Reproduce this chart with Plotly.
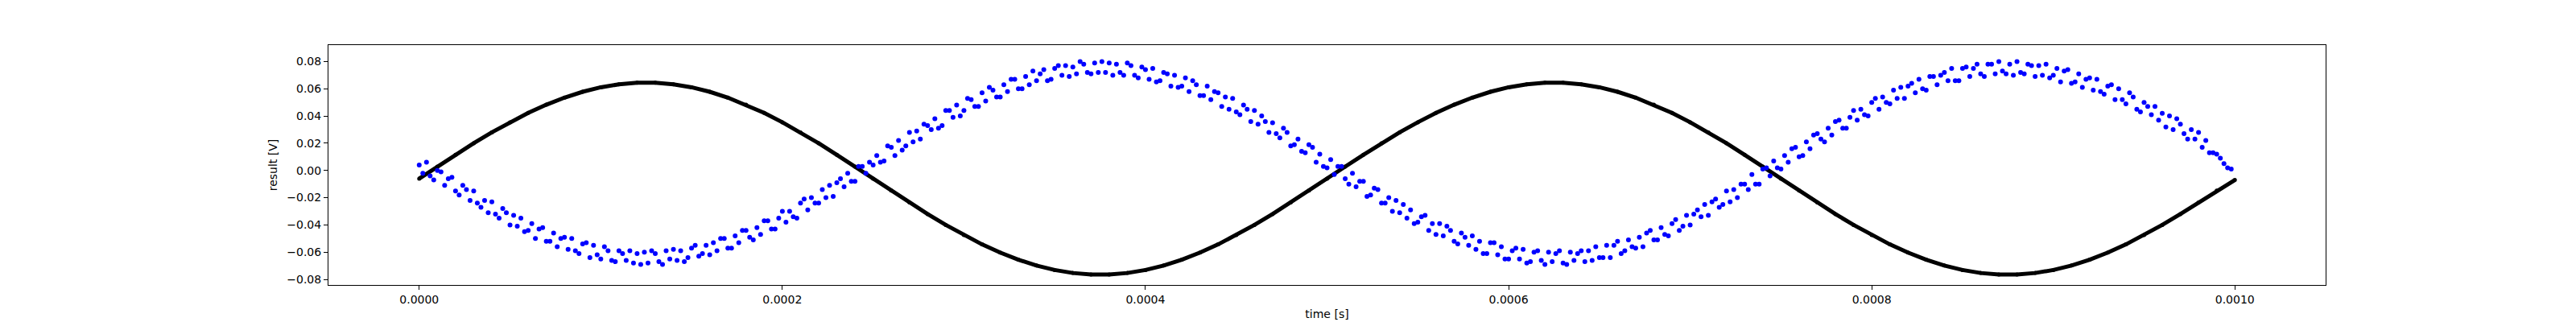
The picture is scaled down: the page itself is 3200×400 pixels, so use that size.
"""
plot.py
-------
Measured result signal (blue dots) against the reference sine (black)
over one millisecond. Styled after the default matplotlib look.
"""

import numpy as np
import plotly.graph_objects as go

# reference sine, sampled every 10 us from 0 to 1 ms
black_result = [
    -0.0060, 0.0028, 0.0115, 0.0200, 0.0280, 0.0354, 0.0423, 0.0483, 0.0535, 0.0578,
    0.0611, 0.0633, 0.0644, 0.0644, 0.0633, 0.0611, 0.0578, 0.0535, 0.0483, 0.0423,
    0.0354, 0.0280, 0.0200, 0.0115, 0.0028, -0.0060, -0.0148, -0.0235, -0.0320, -0.0400,
    -0.0474, -0.0543, -0.0603, -0.0655, -0.0698, -0.0731, -0.0753, -0.0764, -0.0764, -0.0753,
    -0.0731, -0.0698, -0.0655, -0.0603, -0.0543, -0.0474, -0.0400, -0.0320, -0.0235, -0.0148,
    -0.0060, 0.0028, 0.0115, 0.0200, 0.0280, 0.0354, 0.0423, 0.0483, 0.0535, 0.0578,
    0.0611, 0.0633, 0.0644, 0.0644, 0.0633, 0.0611, 0.0578, 0.0535, 0.0483, 0.0423,
    0.0354, 0.0280, 0.0200, 0.0115, 0.0028, -0.0060, -0.0148, -0.0235, -0.0320, -0.0400,
    -0.0474, -0.0543, -0.0603, -0.0655, -0.0698, -0.0731, -0.0753, -0.0764, -0.0764, -0.0753,
    -0.0731, -0.0698, -0.0655, -0.0603, -0.0543, -0.0474, -0.0400, -0.0320, -0.0235, -0.0148,
    -0.0070,
]

# measured signal, sampled every 2 us (noisy, two loose bands)
blue_result = [
    # 0 - 124 us
    0.004, -0.002, 0.006, -0.004, -0.007, 0.000, -0.001, -0.011, -0.006, -0.005,
    -0.015, -0.018, -0.011, -0.014, -0.022, -0.015, -0.024, -0.027, -0.022, -0.031,
    -0.023, -0.032, -0.035, -0.028, -0.031, -0.040, -0.033, -0.041, -0.035, -0.045,
    -0.044, -0.039, -0.050, -0.043, -0.042, -0.052, -0.052, -0.046, -0.056, -0.050,
    -0.049, -0.058, -0.050, -0.059, -0.061, -0.054, -0.053, -0.064, -0.055, -0.062,
    -0.065, -0.056, -0.059, -0.066, -0.067, -0.059, -0.061, -0.066, -0.059, -0.068,
    -0.061, -0.069, -0.060,
    # 126 - 248 us
    -0.068, -0.059, -0.061, -0.067, -0.069, -0.059, -0.065,
    -0.058, -0.066, -0.059, -0.067, -0.064, -0.057, -0.055, -0.063, -0.061, -0.055,
    -0.062, -0.053, -0.059, -0.050, -0.050, -0.057, -0.057, -0.048, -0.053, -0.044,
    -0.044, -0.049, -0.051, -0.042, -0.047, -0.037, -0.037, -0.043, -0.043, -0.035,
    -0.030, -0.038, -0.030, -0.034, -0.035, -0.024, -0.021, -0.029, -0.020, -0.024,
    -0.024, -0.014, -0.020, -0.011, -0.019, -0.009, -0.006, -0.012, -0.002, -0.008,
    -0.008, 0.003, 0.003, -0.002, 0.006,
    # 250 - 374 us
    0.004, 0.011, 0.006, 0.007, 0.018, 0.017, 0.011, 0.022, 0.015, 0.018,
    0.028, 0.021, 0.029, 0.023, 0.034, 0.033, 0.030, 0.038, 0.031, 0.033,
    0.044, 0.044, 0.039, 0.048, 0.040, 0.044, 0.053, 0.052, 0.047, 0.047,
    0.057, 0.051, 0.061, 0.059, 0.054, 0.054, 0.063, 0.058, 0.067, 0.067,
    0.060, 0.060, 0.069, 0.063, 0.073, 0.066, 0.071, 0.074, 0.066, 0.067,
    0.075, 0.077, 0.070, 0.077, 0.069, 0.076, 0.071, 0.080, 0.078, 0.072,
    0.071, 0.079, 0.072,
    # 376 - 498 us
    0.080, 0.072, 0.079, 0.070, 0.078, 0.072, 0.070,
    0.079, 0.077, 0.070, 0.068, 0.076, 0.074, 0.067, 0.075, 0.065, 0.066,
    0.072, 0.071, 0.062, 0.070, 0.061, 0.062, 0.068, 0.058, 0.066, 0.063,
    0.055, 0.055, 0.062, 0.052, 0.058, 0.057, 0.047, 0.054, 0.045, 0.053,
    0.043, 0.041, 0.048, 0.045, 0.036, 0.044, 0.034, 0.040, 0.036, 0.028,
    0.035, 0.027, 0.024, 0.031, 0.028, 0.018, 0.019, 0.023, 0.014, 0.013,
    0.019, 0.017, 0.006, 0.012, 0.003,
    # 500 - 624 us
    0.002, 0.008, -0.003, 0.003, 0.003, -0.006, -0.010, -0.002, -0.012, -0.008,
    -0.008, -0.019, -0.018, -0.013, -0.014, -0.024, -0.024, -0.020, -0.030, -0.022,
    -0.031, -0.025, -0.035, -0.029, -0.039, -0.038, -0.034, -0.033, -0.044, -0.039,
    -0.047, -0.039, -0.048, -0.041, -0.044, -0.052, -0.054, -0.046, -0.049, -0.055,
    -0.048, -0.058, -0.052, -0.061, -0.061, -0.053, -0.053, -0.062, -0.056, -0.065,
    -0.065, -0.059, -0.057, -0.065, -0.058, -0.068, -0.067, -0.060, -0.059, -0.066,
    -0.069, -0.060, -0.067,
    # 626 - 748 us
    -0.061, -0.059, -0.068, -0.069, -0.060, -0.066, -0.061,
    -0.059, -0.067, -0.059, -0.066, -0.056, -0.064, -0.064, -0.055, -0.064, -0.055,
    -0.052, -0.061, -0.059, -0.051, -0.056, -0.057, -0.049, -0.056, -0.046, -0.044,
    -0.051, -0.051, -0.042, -0.047, -0.048, -0.039, -0.036, -0.044, -0.041, -0.033,
    -0.040, -0.032, -0.029, -0.034, -0.025, -0.033, -0.023, -0.021, -0.027, -0.025,
    -0.015, -0.023, -0.014, -0.020, -0.010, -0.010, -0.014, -0.003, -0.010, -0.010,
    0.001, 0.002, -0.004, 0.007, 0.002,
    # 750 - 874 us
    0.001, 0.011, 0.006, 0.016, 0.017, 0.010, 0.011, 0.021, 0.016, 0.026,
    0.027, 0.023, 0.021, 0.031, 0.026, 0.036, 0.037, 0.031, 0.031, 0.039,
    0.044, 0.037, 0.045, 0.041, 0.040, 0.050, 0.053, 0.045, 0.054, 0.050,
    0.049, 0.059, 0.053, 0.061, 0.053, 0.062, 0.064, 0.057, 0.067, 0.060,
    0.059, 0.069, 0.069, 0.063, 0.070, 0.072, 0.066, 0.075, 0.066, 0.066,
    0.075, 0.076, 0.069, 0.075, 0.078, 0.071, 0.069, 0.078, 0.078, 0.071,
    0.080, 0.073, 0.071,
    # 876 - 998 us
    0.078, 0.070, 0.080, 0.072, 0.071, 0.078, 0.077,
    0.069, 0.077, 0.070, 0.078, 0.068, 0.070, 0.075, 0.065, 0.073, 0.074,
    0.064, 0.065, 0.071, 0.061, 0.067, 0.068, 0.059, 0.067, 0.058, 0.056,
    0.062, 0.063, 0.052, 0.060, 0.052, 0.049, 0.057, 0.054, 0.045, 0.043,
    0.050, 0.047, 0.041, 0.047, 0.037, 0.042, 0.032, 0.040, 0.030, 0.038,
    0.034, 0.027, 0.023, 0.030, 0.023, 0.028, 0.017, 0.022, 0.013, 0.013,
    0.012, 0.009, 0.005, 0.002, 0.001,
]

x_ticks = [0.0, 0.0002, 0.0004, 0.0006, 0.0008, 0.0010]
y_ticks = [-0.08, -0.06, -0.04, -0.02, 0.0, 0.02, 0.04, 0.06, 0.08]

FONT = dict(family="DejaVu Sans", size=14, color="black")


def plot_result():
    """
    Black reference sine and blue measured points on shared axes.
    """
    t_black = np.linspace(0.0, 0.001, len(black_result))
    t_blue = np.arange(len(blue_result)) * 2e-6

    fig = go.Figure()
    fig.add_trace(go.Scatter(
        x=t_black, y=black_result, mode="lines+markers",
        line=dict(color="black", width=5),
        marker=dict(color="black", size=5),
        showlegend=False,
    ))
    fig.add_trace(go.Scatter(
        x=t_blue, y=blue_result, mode="markers",
        marker=dict(color="blue", size=6),
        showlegend=False,
    ))

    axis_style = dict(
        showline=True, linecolor="black", linewidth=1, mirror=True,
        ticks="outside", ticklen=5, tickcolor="black", tickwidth=1,
        showgrid=False, zeroline=False, tickfont=FONT,
    )
    fig.update_xaxes(
        range=[-0.00005, 0.00105], tickvals=x_ticks, tickformat=".4f",
        title=dict(text="time [s]", font=FONT, standoff=6), **axis_style,
    )
    fig.update_yaxes(
        range=[-0.0841, 0.0921], tickvals=y_ticks, tickformat=".2f",
        title=dict(text="result [V]", font=FONT, standoff=8), **axis_style,
    )
    fig.update_layout(
        width=3200, height=400,
        margin=dict(l=400, r=319, t=48, b=44),
        paper_bgcolor="white", plot_bgcolor="white",
        font=FONT,
    )
    return fig


if __name__ == "__main__":
    fig = plot_result()
    fig.write_html("out.html")
